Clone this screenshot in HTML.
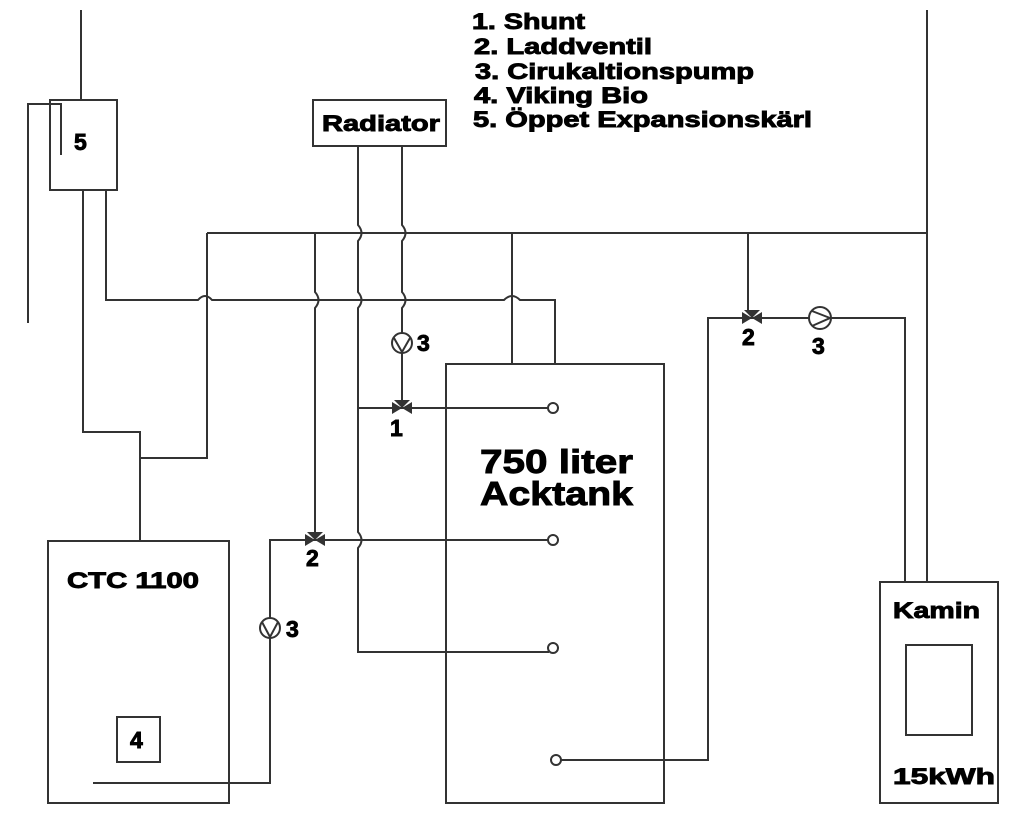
<!DOCTYPE html>
<html><head><meta charset="utf-8"><style>
html,body{margin:0;padding:0;background:#fff;}
svg{display:block;}
text{font-family:"Liberation Sans",Arial,sans-serif;font-weight:bold;fill:#000;stroke:#000;stroke-width:0.9;}
</style></head><body>
<svg width="1024" height="819" viewBox="0 0 1024 819" xmlns="http://www.w3.org/2000/svg">
<g stroke="#333" stroke-width="2" fill="none">
<line x1="81" y1="10" x2="81" y2="100"/>
<rect x="50" y="100" width="67" height="90"/>
<polyline points="28,323 28,104 61,104 61,155"/>
<polyline points="83,190 83,432 140,432 140,541"/>
<polyline points="140,458 207,458 207,233"/>
<path d="M106,190 L106,300 L198,300 Q205,292 212,300 L504,300 Q512,292 520,300 L555,300 L555,364"/>
<line x1="207" y1="233" x2="927" y2="233"/>
<line x1="927" y1="10" x2="927" y2="582"/>
<line x1="512" y1="233" x2="512" y2="364"/>
<line x1="748" y1="233" x2="748" y2="312"/>
<path d="M315,233 L315,292 Q322,300 315,308 L315,534"/>
<rect x="313" y="100" width="133" height="46"/>
<path d="M358,146 L358,225 Q365,233 358,241 L358,292 Q365,300 358,308 L358,532 Q365,540 358,548 L358,652 L549,652"/>
<path d="M402,146 L402,225 Q409,233 402,241 L402,292 Q409,300 402,308 L402,333"/>
<circle cx="402" cy="343" r="10"/>
<path d="M394,338 L402,352 L410,338"/>
<line x1="402" y1="353" x2="402" y2="402"/>
<line x1="358" y1="408" x2="549" y2="408"/>
<rect x="446" y="364" width="218" height="439"/>
<circle cx="553" cy="408" r="5"/>
<circle cx="553" cy="540" r="5"/>
<circle cx="553" cy="648" r="5"/>
<circle cx="556" cy="760" r="5"/>
<polyline points="549,540 270,540 270,618"/>
<circle cx="270" cy="628" r="10"/>
<path d="M262,622 L270,637 L278,622"/>
<polyline points="270,638 270,783 93,783"/>
<rect x="48" y="541" width="181" height="262"/>
<rect x="117" y="717" width="43" height="45"/>
<polyline points="561,760 708,760 708,318 810,318"/>
<circle cx="820" cy="318" r="11"/>
<path d="M812,311 L830,318 L812,326"/>
<polyline points="831,318 905,318 905,582"/>
<rect x="880" y="582" width="118" height="221"/>
<rect x="906" y="645" width="66" height="90"/>
</g>
<g fill="#333">
<path d="M402,408 L394,400 L410,400 Z M402,408 L392,402 L392,414 Z M402,408 L412,402 L412,414 Z"/>
<path d="M315,540 L307,532 L323,532 Z M315,540 L305,534 L305,546 Z M315,540 L325,534 L325,546 Z"/>
<path d="M752,318 L744,310 L760,310 Z M752,318 L742,312 L742,324 Z M752,318 L762,312 L762,324 Z"/>
</g>
<g font-size="22">
<text x="472" y="29" textLength="113" lengthAdjust="spacingAndGlyphs">1. Shunt</text>
<text x="474" y="54" textLength="178" lengthAdjust="spacingAndGlyphs">2. Laddventil</text>
<text x="475" y="79" textLength="279" lengthAdjust="spacingAndGlyphs">3. Cirukaltionspump</text>
<text x="474" y="103" textLength="174" lengthAdjust="spacingAndGlyphs">4. Viking Bio</text>
<text x="473" y="127" textLength="339" lengthAdjust="spacingAndGlyphs">5. Öppet Expansionskärl</text>
<text x="322" y="131" textLength="118" lengthAdjust="spacingAndGlyphs">Radiator</text>
<text x="67" y="588" textLength="132" lengthAdjust="spacingAndGlyphs">CTC 1100</text>
<text x="893" y="618" textLength="87" lengthAdjust="spacingAndGlyphs">Kamin</text>
<text x="893" y="784" textLength="102" lengthAdjust="spacingAndGlyphs">15kWh</text>
</g>
<text x="74" y="150" font-size="23">5</text>
<text x="417" y="351" font-size="23">3</text>
<text x="390" y="436" font-size="23">1</text>
<text x="306" y="566" font-size="23">2</text>
<text x="286" y="637" font-size="23">3</text>
<text x="742" y="345" font-size="23">2</text>
<text x="812" y="354" font-size="23">3</text>
<text x="130" y="748" font-size="23">4</text>
<text x="480" y="473" font-size="33" textLength="153" lengthAdjust="spacingAndGlyphs">750 liter</text>
<text x="480" y="505" font-size="33" textLength="153" lengthAdjust="spacingAndGlyphs">Acktank</text>
</svg>
</body></html>
